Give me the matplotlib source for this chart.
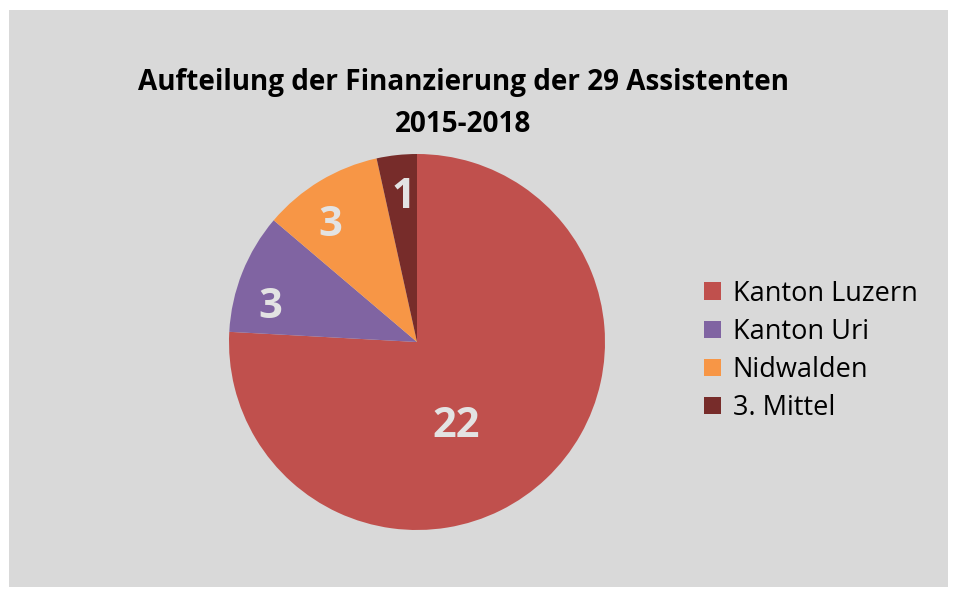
import matplotlib.pyplot as plt
from matplotlib.patches import Rectangle

# Daten
kategorien = ['Kanton Luzern', 'Kanton Uri', 'Nidwalden', '3. Mittel']
werte = [22, 3, 3, 1]
farben = ['#c0504d', '#8064a2', '#f79646', '#772c2a']

plt.rcParams['font.family'] = ['Open Sans', 'DejaVu Sans']

fig = plt.figure(figsize=(9.57, 5.96), dpi=100)
fig.patch.set_facecolor('white')

# grauer Hintergrund des Diagramms
fig.patches.append(Rectangle((9 / 957, 1 - 587 / 596), 939 / 957, 577 / 596,
                             transform=fig.transFigure, facecolor='#d9d9d9',
                             edgecolor='none', zorder=-10))

ax = fig.add_axes([(417 - 188) / 957, (596 - 530) / 596, 376 / 957, 376 / 596])
ax.set_facecolor('none')
ax.set_zorder(5)

wedges, texts, autotexts = ax.pie(werte, colors=farben, startangle=90, counterclock=False,
                                  autopct=lambda p: '{:.0f}'.format(p * sum(werte) / 100),
                                  pctdistance=0.8,
                                  textprops={'color': '#e3e3e3', 'fontsize': 30, 'fontweight': 'bold'})
ax.set_xlim(-1, 1)
ax.set_ylim(-1, 1)
ax.set_aspect('equal')

# Beschriftungen wie in Excel ("optimale Position")
label_pos = [(0.21, -0.45), (-0.78, 0.186), (-0.46, 0.62), (-0.074, 0.766)]
for t, pos in zip(autotexts, label_pos):
    t.set_position(pos)

fig.text(463 / 957, 1 - 103.5 / 596, 'Aufteilung der Finanzierung der 29 Assistenten\n2015-2018',
         ha='center', va='center', fontsize=20.1, fontweight='bold', linespacing=1.58)

fig.legend(wedges, kategorien, loc='center left', bbox_to_anchor=(680 / 957, 1 - 351 / 596),
           frameon=False, fontsize=19.5, handlelength=0.6, handleheight=0.6,
           handletextpad=0.45, labelspacing=0.38)

fig.savefig('out.png', dpi=100)
